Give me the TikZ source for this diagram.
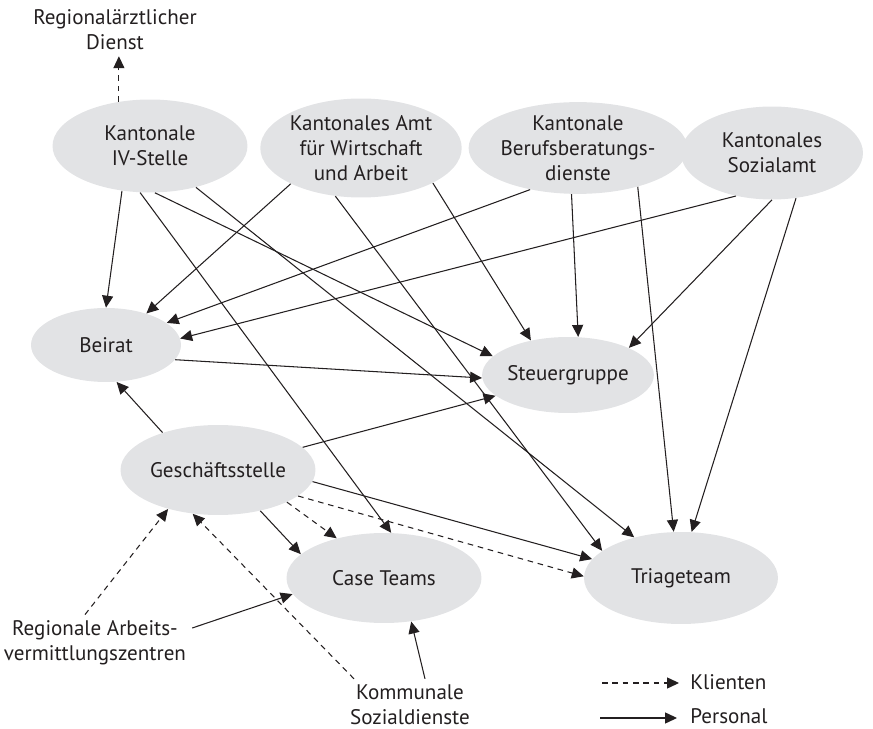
\documentclass[tikz,border=0pt]{standalone}
\usepackage{fontspec}
\setmainfont{PT Sans}
\usetikzlibrary{shapes.geometric,arrows.meta}
\definecolor{ovalgray}{RGB}{226,227,229}
\definecolor{inkgray}{RGB}{35,31,32}
\tikzset{
	amt/.style={ellipse, fill=ovalgray, inner sep=0pt, align=center, text=inkgray},
	pers/.style={-{Triangle[length=6.8pt,width=6.3pt]}, line width=0.6pt, draw=inkgray},
	klient/.style={pers, dash pattern=on 3.2pt off 2.7pt},
	lbl/.style={align=center, text=inkgray}
}
\begin{document}
\begin{tikzpicture}[x=0.02cm, y=-0.02cm, font=\fontsize{12}{14.2}\selectfont]
		\useasboundingbox (0,0) rectangle (873,729);
		\node[amt, minimum width=3.9cm, minimum height=1.86cm] (iv) at (150,146) {Kantonale\\IV-Stelle};
		\node[amt, minimum width=3.9cm, minimum height=1.98cm] (awa) at (361,148) {Kantonales Amt\\für Wirtschaft\\und Arbeit};
		\node[amt, minimum width=3.86cm, minimum height=1.82cm] (bb) at (578,148) {Kantonale\\Berufsberatungs-\\dienste};
		\node[amt, minimum width=3.64cm, minimum height=1.86cm] (sa) at (772,153) {Kantonales\\Sozialamt};
		\node[amt, minimum width=3.0cm, minimum height=1.48cm] (beirat) at (106,345) {Beirat};
		\node[amt, minimum width=3.1cm, minimum height=1.52cm] (steuer) at (568,375) {Steuergruppe};
		\node[amt, minimum width=3.9cm, minimum height=1.8cm] (gs) at (218,470) {Geschäftsstelle};
		\node[amt, minimum width=3.9cm, minimum height=1.8cm] (ct) at (384,578) {Case Teams};
		\node[amt, minimum width=3.88cm, minimum height=1.84cm] (triage) at (681,578) {Triageteam};
		\node[lbl] (rad) at (115,30) {Regionalärztlicher\\Dienst};
		\node[lbl] (rav) at (95,643) {Regionale Arbeits-\\vermittlungszentren};
		\node[lbl] (ks) at (410,705) {Kommunale\\Sozialdienste};

		\draw[pers] (iv.238) -- (beirat.90);
		\draw[pers] (iv.258) -- (ct.81);
		\draw[pers] (iv.276) -- (steuer.166);
		\draw[pers] (iv.318) -- (triage.139);
		\draw[pers] (awa.207) -- (beirat.38);
		\draw[pers] (awa.334) -- (steuer.137);
		\draw[pers] (awa.242) -- (triage.161);
		\draw[pers] (bb.221) -- (beirat.20);
		\draw[pers] (bb.262) -- (steuer.75);
		\draw[pers] (bb.327) -- (triage.99);
		\draw[pers] (sa.230) -- (beirat.5);
		\draw[pers] (sa.270) -- (steuer.24);
		\draw[pers] (sa.298) -- (triage.77);
		\draw[pers] (beirat.348) -- (steuer.182);
		\draw[pers] (gs.146) -- (beirat.286);
		\draw[pers] (gs.15) -- (steuer.196);
		\draw[pers] (gs.353) -- (triage.168);
		\draw[pers] (gs.316) -- (ct.164);
		\draw[klient] (gs.335) -- (ct.140);
		\draw[klient] (gs.342) -- (triage.179);
		\draw[klient] (iv.125) -- (iv.125 |- rad.south);
		\draw[pers] ([yshift=0.3cm]rav.east) -- (ct.190);
		\draw[klient] ([xshift=-0.2cm]rav.north) -- (gs.218);
		\draw[klient] ([xshift=0.2cm]ks.north west) -- (gs.240);
		\draw[pers] ([xshift=0.3cm]ks.north) -- (ct.302);

		\coordinate (kl0) at (602,683);
		\coordinate (kl1) at (679,683);
		\coordinate (pe0) at (600,718);
		\coordinate (pe1) at (677,718);
		\draw[klient] (kl0) -- (kl1);
		\draw[pers] (pe0) -- (pe1);
		\node[lbl, anchor=base west, inner sep=0pt] (kltext) at (690,689) {Klienten};
		\node[lbl, anchor=base west, inner sep=0pt] (petext) at (690,724) {Personal};
	\end{tikzpicture}
\end{document}
